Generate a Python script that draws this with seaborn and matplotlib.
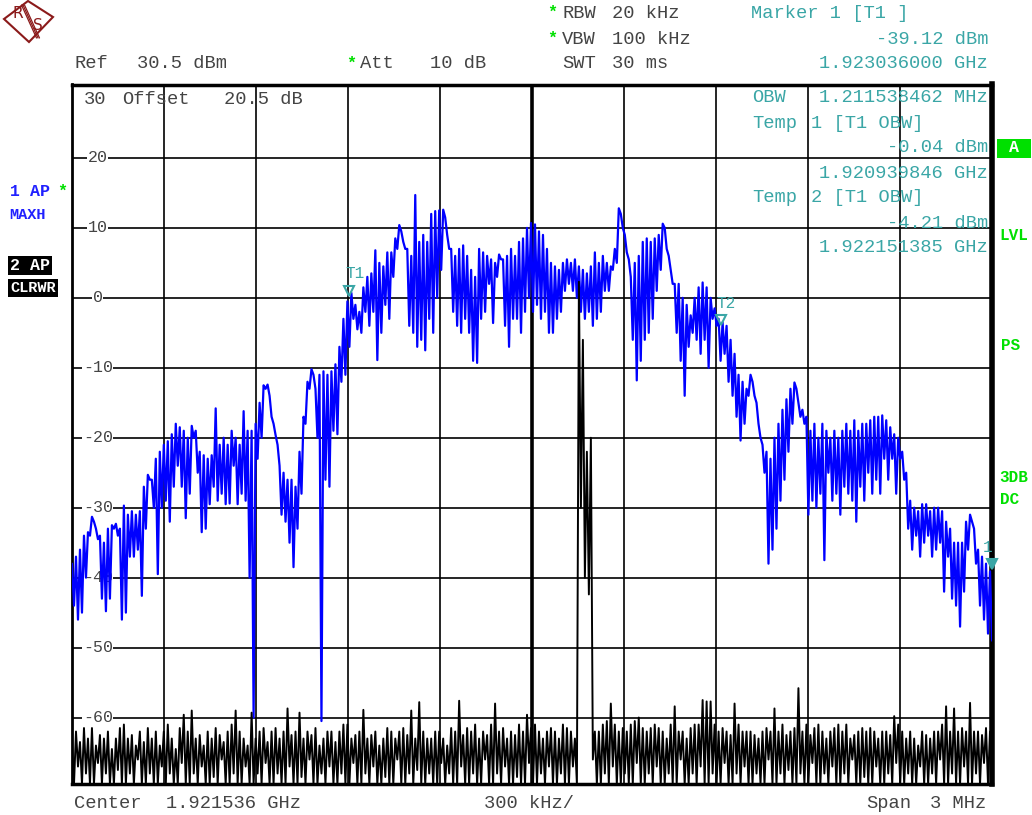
import numpy as np
import pandas as pd
import matplotlib
matplotlib.use("Agg")
import matplotlib.pyplot as plt
import matplotlib.transforms as mtrans
import seaborn as sns
from matplotlib.patches import Polygon

# trace 1 (MAXH, blue): upper and lower envelope, dBm, even steps over the span
blue_hi = [-38, -37, -36, -34, -33.5, -31.3, -33, -34, -35, -33,
           -32.5, -32.3, -33, -29.7, -31, -30.5, -31, -30.5, -27, -25.3,
           -26, -23, -22, -21, -20.5, -19.5, -18, -18.5, -19, -20,
           -18.3, -19, -22, -22.5, -23, -22.5, -15.8, -21, -20, -21,
           -19, -20, -21, -16.2, -19, -19, -18, -15, -12.5, -12.4,
           -17, -19.6, -24, -25, -26, -26, -27, -22, -17, -12,
           -10.2, -13, -11, -10.5, -11, -10.5, -9.5, -7, -3, -0.5,
           0.7, -1, -2, 1.5, 3, 3.5, 6.8, 5, 4.5, 6.5,
           6.5, 8.5, 10.4, 8, 7, 6, 14.7, 8, 9, 8,
           12, 12.4, 12.5, 12.6, 9, 7, 6, 7, 7.5, 6,
           4, 3, 7, 6.5, 6, 5.5, 5, 6.2, 5.5, 6,
           7, 6, 8, 8.5, 10, 10.7, 10.5, 9.5, 9, 7,
           5, 4.5, 4, 5, 5.5, 5, 5.5, 4.5, 4, 3.5,
           4.5, 6.5, 5, 6, 5, 4.5, 7, 12.8, 10, 6.5,
           3, 5, 6, 8, 8.5, 8, 8.5, 9, 10.6, 7,
           4, 2, 2, 0, -1, -2.5, 0, 1.5, 2.2, 1.5,
           0, -1.5, -3, -3.5, -4, -6, -8, -11, -12, -13,
           -11, -14, -18, -21, -22, -23, -20, -18, -16, -14.5,
           -13, -12.1, -15, -16, -17, -19, -18, -20, -18, -19,
           -20, -19, -20, -19, -18, -19, -17.5, -19, -18, -18,
           -17.5, -17, -17, -16.8, -17.5, -18.5, -19.5, -20, -22, -25,
           -29, -30, -30.5, -29.5, -29.5, -30.5, -30, -30, -30.5, -32,
           -33, -35, -35, -35, -32, -31, -33, -36, -37, -38,
           -39.1]
blue_lo = [-44, -46, -45, -40, -34, -32, -34.5, -43, -44.8, -43,
           -33, -34, -46, -45, -37, -37, -36, -42.6, -33, -26,
           -30, -39.5, -30, -29, -32, -27, -24, -27, -31.5, -28,
           -20, -25, -33.5, -33, -29.5, -27, -29, -28, -29.5, -29.4,
           -24, -29.5, -28, -29, -40, -60, -23, -20, -13, -14,
           -18, -21, -31, -32, -35, -38.5, -33, -28, -18, -13,
           -11, -20, -60.5, -26, -27, -19, -19.5, -12, -11, -7,
           -3, -4.5, -5, -2, -4, -2, -8.9, -5, -1, -3,
           3, 7, 9.5, 7, -4, -5, -7, -6, -7.5, -3,
           -5, 0, 4, 11.5, 7, -2, -4, -5, -3, -5,
           -9, -9.3, -3, -2, 2, -3.6, 3, 5.5, -4, -7,
           -3, -3, -5, -2, 0, -2, -1, -3, -2, -5,
           -5, -3, -2, 1, 2, 1, 0, -2, -3, -2,
           -4, -3, -2, 1, 1, 4, 5, 12, 9, 5.5,
           -6, -11.8, -9, -6, -5, -3, 1, 4, 10, 6,
           2, -5, -9, -14, -7, -5, -6, -8, -6, -10,
           -3, -4, -9, -8, -12, -14, -17, -20.4, -18, -14,
           -12, -15, -20, -25, -38, -36, -33, -29, -26, -22,
           -18, -13, -17, -18, -31, -29, -30, -28, -37.5, -25,
           -29, -28, -31, -27, -28, -29, -32, -27, -29, -25,
           -28, -26, -28, -23, -26, -23, -28, -23, -26, -33,
           -36, -34, -37, -35, -34, -37, -36, -35, -42, -37,
           -43, -44, -47, -42, -36, -32, -38, -44, -46, -48,
           -49]

# trace 2 (CLRWR, black): upper and lower envelope, dBm
black_hi = [-64, -62, -63.5, -61.5, -63, -61.5, -64, -62.5, -63, -62,
            -64.5, -63, -61.5, -61, -63, -62.5, -64, -62, -63.5, -61.5,
            -63, -62, -64, -62, -61, -63, -64.5, -61.5, -59.6, -62,
            -59, -63, -62.5, -64, -62, -63, -61.5, -62.5, -63.5, -62,
            -61, -59, -62, -63, -64, -59.3, -63, -62, -61.5, -63.5,
            -62, -61.5, -63, -62, -58.7, -62.5, -62, -59.3, -63, -62,
            -62.5, -61.5, -64, -63, -62, -62, -63.5, -62, -61, -61,
            -63, -62.5, -62, -58.9, -63, -62.5, -62, -64, -63, -61.5,
            -62, -63, -62, -61.5, -62.5, -59, -63, -57.8, -62, -63,
            -63, -62, -62, -63, -64, -61.5, -62, -57.6, -62.5, -61.5,
            -62, -61, -63, -62, -62.5, -61, -58, -62, -61.5, -63,
            -62, -62.5, -61, -62, -59.6, -61.5, -61, -62, -63, -62,
            -61.5, -62, -63, -61, -61.5, -62, -63, 2.3, -6, -22,
            -20, -62, -62, -61, -60.5, -58, -61, -62, -61.5, -62,
            -61, -60.5, -60, -61.5, -62, -61.5, -61, -61.5, -62, -63,
            -61, -58.4, -62, -62, -63, -61.5, -61, -61, -57.5, -57.7,
            -57.7, -61, -62, -61.5, -62, -62.5, -58, -61, -62, -62,
            -62, -62.5, -63, -62, -61.5, -62, -58.7, -62, -61, -62.5,
            -62, -61.5, -55.8, -62, -61, -62.5, -61.5, -61, -62, -63,
            -62, -61.5, -61, -62, -61, -63, -62.5, -62, -61.5, -62,
            -61.5, -62, -63, -62, -62, -62.5, -59.8, -61, -62, -63,
            -62, -63, -64, -62, -62.5, -63, -62, -62, -61, -58.4,
            -62, -58.7, -62, -61.5, -62, -57.9, -62, -62, -62.5, -61.5,
            -62]
black_lo = [-69.5, -67, -69.5, -68, -69.5, -69.5, -66.5, -69.5, -68, -69.5,
            -69.5, -67.5, -69.5, -69.5, -68, -69.5, -66, -69.5, -69.5, -68,
            -69.5, -69.5, -67, -69.5, -68, -69.5, -69.5, -66.5, -69.5, -69.5,
            -68, -69.5, -67, -69.5, -69.5, -68.5, -69.5, -66, -69.5, -69.5,
            -68, -69.5, -69.5, -67, -69.5, -69.5, -68, -69.5, -66.5, -69.5,
            -69.5, -68, -69.5, -69.5, -67, -69.5, -69.5, -68.5, -69.5, -66,
            -69.5, -69.5, -68, -69.5, -67, -69.5, -69.5, -68, -69.5, -69.5,
            -66.5, -69.5, -69.5, -68, -69.5, -67, -69.5, -69.5, -68.5, -69.5,
            -69.5, -66, -69.5, -69.5, -68, -69.5, -67.5, -69.5, -69.5, -68,
            -69.5, -69.5, -66.5, -69.5, -68, -69.5, -69.5, -67, -69.5, -69.5,
            -68, -69.5, -69.5, -66, -69.5, -69.5, -68, -69.5, -67, -69.5,
            -69.5, -68.5, -69.5, -69.5, -66.5, -69.5, -69.5, -68, -69.5, -67,
            -69.5, -69.5, -68, -69.5, -69.5, -67, -69.5, -30, -40, -42.4,
            -66, -69.5, -69.5, -68, -69.5, -67, -69.5, -69.5, -68, -69.5,
            -69.5, -66.5, -69.5, -69.5, -68, -69.5, -67, -69.5, -69.5, -68,
            -69.5, -69.5, -66, -69.5, -69.5, -68, -69.5, -67, -69.5, -69.5,
            -68, -69.5, -69.5, -66.5, -69.5, -69.5, -68, -69.5, -67, -69.5,
            -69.5, -68, -69.5, -69.5, -66, -69.5, -69.5, -68, -69.5, -67.5,
            -69.5, -69.5, -68, -69.5, -69.5, -66.5, -69.5, -69.5, -68, -69.5,
            -67, -69.5, -69.5, -68, -69.5, -66, -69.5, -69.5, -68.5, -69.5,
            -69.5, -67, -69.5, -69.5, -68, -69.5, -66.5, -69.5, -69.5, -68,
            -69.5, -69.5, -67, -69.5, -69.5, -68, -69.5, -66, -69.5, -69.5,
            -68, -69.5, -69.5, -67, -69.5, -69.5, -68, -69.5, -66.5, -69.5,
            -69.5]

center_ghz = 1.921536
span_ghz = 0.003
ref_db = 30.5
ytick_db = [20, 10, 0, -10, -20, -30, -40, -50, -60]

# markers: (label, freq GHz, level dBm)
mk_names = ["T1", "T2", "1"]
mk_freq = [1.920939846, 1.922151385, 1.923036000]
mk_level = [-0.04, -4.21, -39.12]

W, H = 1032, 815
TEAL = "#3aa6a6"
GREEN = "#00e000"
GREY = "#444444"
FONT = "Liberation Mono"

sns.set_style("white")
plt.rcParams["font.family"] = [FONT, "DejaVu Sans"]

fig = plt.figure(figsize=(W / 100, H / 100), dpi=100)
ax = fig.add_axes([72 / W, 1 - 784 / H, 920 / W, 699.5 / H])

f0 = center_ghz - span_ghz / 2
f1 = center_ghz + span_ghz / 2


def sweep(hi, lo):
    # the analyzer draws each bin as a vertical stroke from its max to its min
    y = np.column_stack([hi, lo]).ravel()
    return pd.DataFrame({"f": np.linspace(f0, f1, len(y)), "db": y})


sns.lineplot(data=sweep(blue_hi, blue_lo), x="f", y="db", ax=ax, color="#0000ff",
             lw=1.6, estimator=None, sort=False, zorder=3)
sns.lineplot(data=sweep(black_hi, black_lo), x="f", y="db", ax=ax, color="black",
             lw=1.4, estimator=None, sort=False, zorder=4)

ax.set_xlim(f0, f1)
ax.set_ylim(ref_db - 100, ref_db)
ax.set_xticks(np.linspace(f0, f1, 11))
ax.set_yticks(ytick_db)
ax.set_xticklabels([])
ax.set_yticklabels([])
ax.tick_params(length=0)
ax.set_xlabel("")
ax.set_ylabel("")
ax.grid(True, color="black", lw=1.2, zorder=1)
ax.axvline(center_ghz, color="black", lw=2.6, zorder=1)
for side, w in [("left", 2), ("bottom", 2.5), ("top", 2.5), ("right", 4)]:
    ax.spines[side].set_linewidth(w)
    ax.spines[side].set_color("black")

# level labels sit inside the grid
for v in ytick_db:
    ax.text(0.028, v, str(v), transform=ax.get_yaxis_transform(), ha="center",
            va="center", fontsize=12, color=GREY, zorder=2.5,
            bbox=dict(facecolor="white", edgecolor="none", pad=0.5))

# markers
shift = mtrans.ScaledTranslation(-4 / 100, 0, fig.dpi_scale_trans)
for name, fq, lv in zip(mk_names, mk_freq, mk_level):
    filled = name == "1"
    ax.plot(fq, lv + 1.0, marker="v", ms=7, color=TEAL,
            mfc=TEAL if filled else "none", mew=1.5, zorder=5, clip_on=False)
    ax.text(fq, lv + 2.4, name, ha="center" if filled else "left",
            va="bottom", fontsize=11.5, color=TEAL, zorder=5,
            transform=ax.transData + shift)


def ftxt(x, y, s, color=GREY, size=13.5, **kw):
    fig.text(x / W, 1 - y / H, s, color=color, fontsize=size, va="center", **kw)


# header
ftxt(74, 64, "Ref")
ftxt(137, 64, "30.5 dBm")
ftxt(346, 63, "*", color=GREEN, size=12, weight="bold")
ftxt(360, 64, "Att")
ftxt(430, 64, "10 dB")
ftxt(547, 12, "*", color=GREEN, size=12, weight="bold")
ftxt(562, 13, "RBW")
ftxt(612, 13, "20 kHz")
ftxt(547, 38, "*", color=GREEN, size=12, weight="bold")
ftxt(562, 39, "VBW")
ftxt(612, 39, "100 kHz")
ftxt(562, 64, "SWT")
ftxt(612, 64, "30 ms")
ftxt(751, 14, "Marker 1 [T1 ]", color=TEAL)
ftxt(988, 39, "-39.12 dBm", color=TEAL, ha="right")
ftxt(988, 64, "1.923036000 GHz", color=TEAL, ha="right")

# inside the grid
ftxt(84, 100, "30")
ftxt(122, 100, "Offset")
ftxt(224, 100, "20.5 dB")
ftxt(752, 98, "OBW", color=TEAL)
ftxt(988, 98, "1.211538462 MHz", color=TEAL, ha="right")
ftxt(752, 123, "Temp", color=TEAL)
ftxt(811, 123, "1 [T1 OBW]", color=TEAL)
ftxt(988, 148, "-0.04 dBm", color=TEAL, ha="right")
ftxt(988, 173, "1.920939846 GHz", color=TEAL, ha="right")
ftxt(752, 198, "Temp", color=TEAL)
ftxt(811, 198, "2 [T1 OBW]", color=TEAL)
ftxt(988, 223, "-4.21 dBm", color=TEAL, ha="right")
ftxt(988, 248, "1.922151385 GHz", color=TEAL, ha="right")

# footer
ftxt(74, 804, "Center")
ftxt(166, 804, "1.921536 GHz")
ftxt(484, 804, "300 kHz/")
ftxt(866, 804, "Span")
ftxt(930, 804, "3 MHz")

# trace labels on the left
ftxt(10, 192, "1 AP", color="#2020ff", size=12, weight="bold")
ftxt(57, 191, "*", color=GREEN, size=12, weight="bold")
ftxt(9, 215, "MAXH", color="#2020ff", size=11, weight="bold")
ftxt(10, 265, "2 AP", color="white", size=12, weight="bold",
     bbox=dict(facecolor="black", edgecolor="none", pad=1.5))
ftxt(10, 288, "CLRWR", color="white", size=11, weight="bold",
     bbox=dict(facecolor="black", edgecolor="none", pad=1.5))

# status labels on the right
ftxt(999, 148, " A ", color="white", size=12, weight="bold",
     bbox=dict(facecolor=GREEN, edgecolor="none", boxstyle="square,pad=0.12"))
ftxt(999, 236, "LVL", color=GREEN, size=11.5, weight="bold")
ftxt(1001, 345, "PS", color=GREEN, size=11.5, weight="bold")
ftxt(999, 478, "3DB", color=GREEN, size=11.5, weight="bold")
ftxt(1000, 500, "DC", color=GREEN, size=11.5, weight="bold")

# R&S logo
lax = fig.add_axes([0, 1 - 45 / H, 60 / W, 45 / H])
lax.set_xlim(0, 60)
lax.set_ylim(45, 0)
lax.axis("off")
red = "#8b1a1a"
lax.add_patch(Polygon([(4, 19), (28, 1), (53, 17), (29, 42)], closed=True,
                      fill=False, ec=red, lw=1.5))
for d in (-1.5, 0, 1.5):
    lax.plot([23 + d, 38 + d], [5, 38], color=red, lw=0.9)
lax.text(18, 14, "R", color=red, fontsize=11, ha="center", va="center", family="DejaVu Sans")
lax.text(38, 26, "S", color=red, fontsize=11, ha="center", va="center", family="DejaVu Sans")

fig.savefig("out.png", dpi=100, facecolor="white")
